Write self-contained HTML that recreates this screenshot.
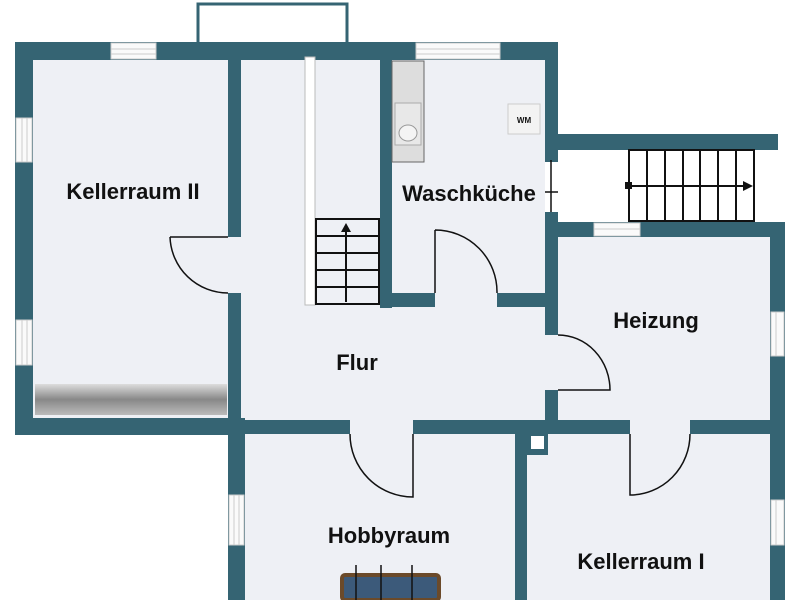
<!DOCTYPE html>
<html><head><meta charset="utf-8"><style>
html,body{margin:0;padding:0;background:#fff;}
svg{display:block}
text{font-family:"Liberation Sans",sans-serif;font-weight:bold;fill:#111;}
</style></head><body>
<svg width="800" height="600" viewBox="0 0 800 600" xmlns="http://www.w3.org/2000/svg">
<defs>
<linearGradient id="rad" x1="0" y1="0" x2="0" y2="1"><stop offset="0" stop-color="#ddd"/><stop offset="0.5" stop-color="#888"/><stop offset="1" stop-color="#bbb"/></linearGradient>
</defs>
<!-- floors -->
<rect x="33" y="60" width="195" height="358" fill="#eef0f5"/>
<rect x="240" y="60" width="305" height="360" fill="#eef0f5"/>
<rect x="558" y="236" width="212" height="184" fill="#eef0f5"/>
<rect x="245" y="434" width="270" height="166" fill="#eef0f5"/>
<rect x="527" y="434" width="243" height="166" fill="#eef0f5"/>
<g fill="#eef0f5">
<rect x="226" y="237" width="17" height="56"/>
<rect x="543" y="335" width="17" height="55"/>
<rect x="350" y="418" width="63" height="18"/>
<rect x="630" y="418" width="60" height="18"/>
<rect x="435" y="291" width="62" height="18"/>
</g>
<!-- balcony -->
<rect x="198" y="4" width="149" height="40" fill="#fff" stroke="#356473" stroke-width="3"/>
<g fill="#356473">
<rect x="15" y="42" width="542" height="18"/>
<rect x="15" y="42" width="18" height="392"/>
<rect x="15" y="418" width="230" height="17"/>
<rect x="228" y="60" width="13" height="177"/>
<rect x="228" y="293" width="13" height="127"/>
<rect x="228" y="420" width="17" height="180"/>
<rect x="241" y="420" width="109" height="14"/>
<rect x="413" y="420" width="217" height="14"/>
<rect x="690" y="420" width="95" height="14"/>
<rect x="515" y="420" width="12" height="180"/>
<rect x="527" y="434" width="21" height="21"/>
<rect x="770" y="222" width="15" height="378"/>
<rect x="545" y="222" width="240" height="15"/>
<rect x="545" y="222" width="13" height="113"/>
<rect x="545" y="390" width="13" height="35"/>
<rect x="545" y="42" width="13" height="120"/>
<rect x="545" y="212" width="13" height="12"/>
<rect x="558" y="134" width="220" height="16"/>
<rect x="380" y="60" width="12" height="248"/>
<rect x="380" y="293" width="55" height="14"/>
<rect x="497" y="293" width="61" height="14"/>
</g>
<rect x="531" y="436" width="13" height="13" fill="#fff"/>
<!-- windows -->
<g fill="#fafafa" stroke="#ccc" stroke-width="1">
<rect x="111" y="43" width="45" height="16"/>
<rect x="416" y="43" width="84" height="16"/>
<rect x="16" y="118" width="16" height="44"/>
<rect x="16" y="320" width="16" height="45"/>
<rect x="229" y="495" width="15" height="50"/>
<rect x="594" y="223" width="46" height="13"/>
<rect x="771" y="312" width="13" height="44"/>
<rect x="771" y="500" width="13" height="45"/>
</g>
<g stroke="#ccc" stroke-width="1">
<line x1="111" y1="49" x2="156" y2="49"/><line x1="111" y1="54" x2="156" y2="54"/>
<line x1="416" y1="49" x2="500" y2="49"/><line x1="416" y1="54" x2="500" y2="54"/>
<line x1="22" y1="118" x2="22" y2="162"/><line x1="27" y1="118" x2="27" y2="162"/>
<line x1="22" y1="320" x2="22" y2="365"/><line x1="27" y1="320" x2="27" y2="365"/>
<line x1="234" y1="495" x2="234" y2="545"/><line x1="239" y1="495" x2="239" y2="545"/>
<line x1="594" y1="229" x2="640" y2="229"/>
<line x1="776" y1="312" x2="776" y2="356"/><line x1="776" y1="500" x2="776" y2="545"/>
</g>
<!-- radiator bar -->
<rect x="35" y="384" width="192" height="31" fill="url(#rad)"/>
<!-- thin wall -->
<rect x="305" y="57" width="10" height="248" fill="#fff" stroke="#bbb" stroke-width="1"/>
<!-- doors -->
<g fill="none" stroke="#111" stroke-width="1.5">
<path d="M170 237 H228 M170 237 A58 58 0 0 0 228 293"/>
<path d="M435 230 V293 M435 230 A62 62 0 0 1 497 293"/>
<path d="M558 335 A52 55 0 0 1 610 390 H558"/>
<path d="M350 434 A63 63 0 0 0 413 497 V434"/>
<path d="M630 434 V495 A60 61 0 0 0 690 434"/>
<path d="M551 160 V212 M545 192 H558"/>
</g>
<!-- inner stairs -->
<g fill="none" stroke="#111" stroke-width="2">
<rect x="316" y="219" width="63" height="85"/>
<line x1="316" y1="236" x2="379" y2="236"/><line x1="316" y1="253" x2="379" y2="253"/>
<line x1="316" y1="270" x2="379" y2="270"/><line x1="316" y1="287" x2="379" y2="287"/>
<line x1="346" y1="230" x2="346" y2="302"/>
</g>
<polygon points="341,232 346,223 351,232" fill="#111"/>
<!-- outer stairs -->
<g fill="none" stroke="#111" stroke-width="2">
<rect x="629" y="150" width="125" height="71"/>
<line x1="647" y1="150" x2="647" y2="221"/><line x1="665" y1="150" x2="665" y2="221"/>
<line x1="683" y1="150" x2="683" y2="221"/><line x1="700" y1="150" x2="700" y2="221"/>
<line x1="718" y1="150" x2="718" y2="221"/><line x1="736" y1="150" x2="736" y2="221"/>
<line x1="629" y1="186" x2="745" y2="186"/>
</g>
<rect x="625" y="182" width="7" height="7" fill="#111"/>
<polygon points="743,181 753,186 743,191" fill="#111"/>
<!-- kitchen counter -->
<rect x="392" y="61" width="32" height="101" fill="#ddd" stroke="#666" stroke-width="1"/>
<rect x="395" y="103" width="26" height="42" fill="#e8e8e8" stroke="#aaa"/>
<ellipse cx="408" cy="133" rx="9" ry="8" fill="#f4f4f4" stroke="#999"/>
<!-- WM -->
<rect x="508" y="104" width="32" height="30" fill="#f3f3f3" stroke="#ccc"/>
<text x="524" y="123" font-size="8" text-anchor="middle">WM</text>
<!-- foosball -->
<rect x="342" y="575" width="97" height="25" rx="3" fill="#3c5a7a" stroke="#6b4a2a" stroke-width="4"/>
<g stroke="#111" stroke-width="1.5"><line x1="356" y1="565" x2="356" y2="600"/><line x1="381" y1="565" x2="381" y2="600"/><line x1="412" y1="565" x2="412" y2="600"/></g>
<!-- labels -->
<text x="133" y="199" font-size="22" text-anchor="middle">Kellerraum II</text>
<text x="469" y="201" font-size="22" text-anchor="middle">Waschküche</text>
<text x="656" y="328" font-size="22" text-anchor="middle">Heizung</text>
<text x="357" y="370" font-size="22" text-anchor="middle">Flur</text>
<text x="389" y="543" font-size="22" text-anchor="middle">Hobbyraum</text>
<text x="641" y="569" font-size="22" text-anchor="middle">Kellerraum I</text>
</svg>
</body></html>
